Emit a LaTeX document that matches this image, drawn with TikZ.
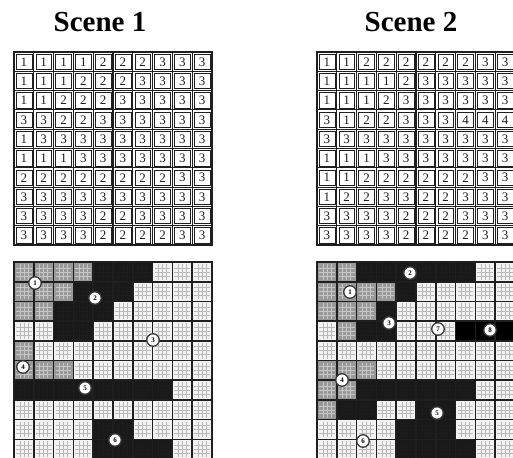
\documentclass[tikz,border=0pt]{standalone}
\usepackage{fontspec}
\setmainfont{Liberation Serif}
\definecolor{reg1}{gray}{0.6}
\definecolor{reg2}{gray}{0.1}
\definecolor{reg3}{gray}{0.95}
\definecolor{reg4}{gray}{0.0}
\definecolor{ink}{gray}{0.12}
\tikzset{
  title/.style={font=\fontsize{29}{29}\selectfont\bfseries, anchor=base, inner sep=0},
  digit/.style={font=\fontsize{13}{13}\selectfont, inner sep=0, text=ink},
  tex1/.style={draw=gray!45, line width=0.5pt},
  tex2/.style={draw=gray!22!black, line width=0.5pt},
  tex3/.style={draw=gray!55, line width=0.5pt},
  tex4/.style={draw=black, line width=0.5pt},
  gridline/.style={draw=ink, line width=1.6pt},
  inbox/.style={draw=ink, line width=0.6pt},
  marker/.style={circle, fill=white, draw=gray!45!black, line width=1.3pt, minimum size=12.5pt, inner sep=0, font=\fontsize{7}{7}\selectfont\bfseries}
}
\newcommand{\scenegrids}[3]{%
  % top number grid
  \foreach \row [count=\r] in {#3} {
    \foreach \v [count=\c] in \row {
      \pgfmathsetmacro{\xx}{#1+(\c-1)*19.8}
      \pgfmathsetmacro{\yy}{52+(\r-1)*19.3}
      \draw[inbox] (\xx+2,\yy+2) rectangle (\xx+17.8,\yy+17.3);
      \node[digit] (n#2-\r-\c) at (\xx+9.9,\yy+9.9) {\v};
    }
  }
  \foreach \i in {0,...,10}{
    \draw[ink, line width=1.1pt] (#1+\i*19.8,52) -- (#1+\i*19.8,245);
    \draw[ink, line width=1.1pt] (#1,52+\i*19.3) -- (#1+198,52+\i*19.3);
  }
  \draw[ink, line width=1.6pt] (#1,52) rectangle (#1+198,245);
  % bottom shaded grid
  \foreach \row [count=\r] in {#3} {
    \foreach \v [count=\c] in \row {
      \pgfmathsetmacro{\xx}{#1+(\c-1)*19.8}
      \pgfmathsetmacro{\yy}{262+(\r-1)*19.7}
      \fill[reg\v] (\xx,\yy) rectangle ++(19.8,19.7);
      \foreach \f in {0.3,0.5,0.7}{
        \draw[tex\v] (\xx+\f*19.8,\yy+2) -- (\xx+\f*19.8,\yy+17.7);
        \draw[tex\v] (\xx+2,\yy+\f*19.7) -- (\xx+17.8,\yy+\f*19.7);
      }
    }
  }
  \foreach \i in {0,...,10}{
    \draw[gridline] (#1+\i*19.8,262) -- (#1+\i*19.8,459);
    \draw[gridline] (#1,262+\i*19.7) -- (#1+198,262+\i*19.7);
  }
  \draw[ink, line width=2pt] (#1,262) rectangle (#1+198,459);
}
\begin{document}
\begin{tikzpicture}[x=1pt,y=-1pt]
\useasboundingbox (0,0) rectangle (513,457);
\clip (0,0) rectangle (513,457);
\fill[white] (0,0) rectangle (513,457);
% titles
\node[title] (t1) at (100,32) {Scene 1};
\node[title] (t2) at (411,32) {Scene 2};
% grids
\scenegrids{14}{a}{{1,1,1,1,2,2,2,3,3,3},{1,1,1,2,2,2,3,3,3,3},{1,1,2,2,2,3,3,3,3,3},{3,3,2,2,3,3,3,3,3,3},{1,3,3,3,3,3,3,3,3,3},{1,1,1,3,3,3,3,3,3,3},{2,2,2,2,2,2,2,2,3,3},{3,3,3,3,3,3,3,3,3,3},{3,3,3,3,2,2,3,3,3,3},{3,3,3,3,2,2,2,2,3,3}}
\scenegrids{317}{b}{{1,1,2,2,2,2,2,2,3,3},{1,1,1,1,2,3,3,3,3,3},{1,1,1,2,3,3,3,3,3,3},{3,1,2,2,3,3,3,4,4,4},{3,3,3,3,3,3,3,3,3,3},{1,1,1,3,3,3,3,3,3,3},{1,1,2,2,2,2,2,2,3,3},{1,2,2,3,3,2,2,3,3,3},{3,3,3,3,2,2,2,3,3,3},{3,3,3,3,2,2,2,2,3,3}}
% region markers
\foreach \px/\py/\lab [count=\k] in {35/283/1, 95/298/2, 153/340/3, 23/367/4, 85/388/5, 115/440/6}{
  \node[marker] (ma\k) at (\px,\py) {\lab};
}
\foreach \px/\py/\lab [count=\k] in {410/273/2, 350/292/1, 389/323/3, 438/329/7, 490/330/8, 342/380/4, 437/413/5, 363/441/6}{
  \node[marker] (mb\k) at (\px,\py) {\lab};
}
\end{tikzpicture}
\end{document}
